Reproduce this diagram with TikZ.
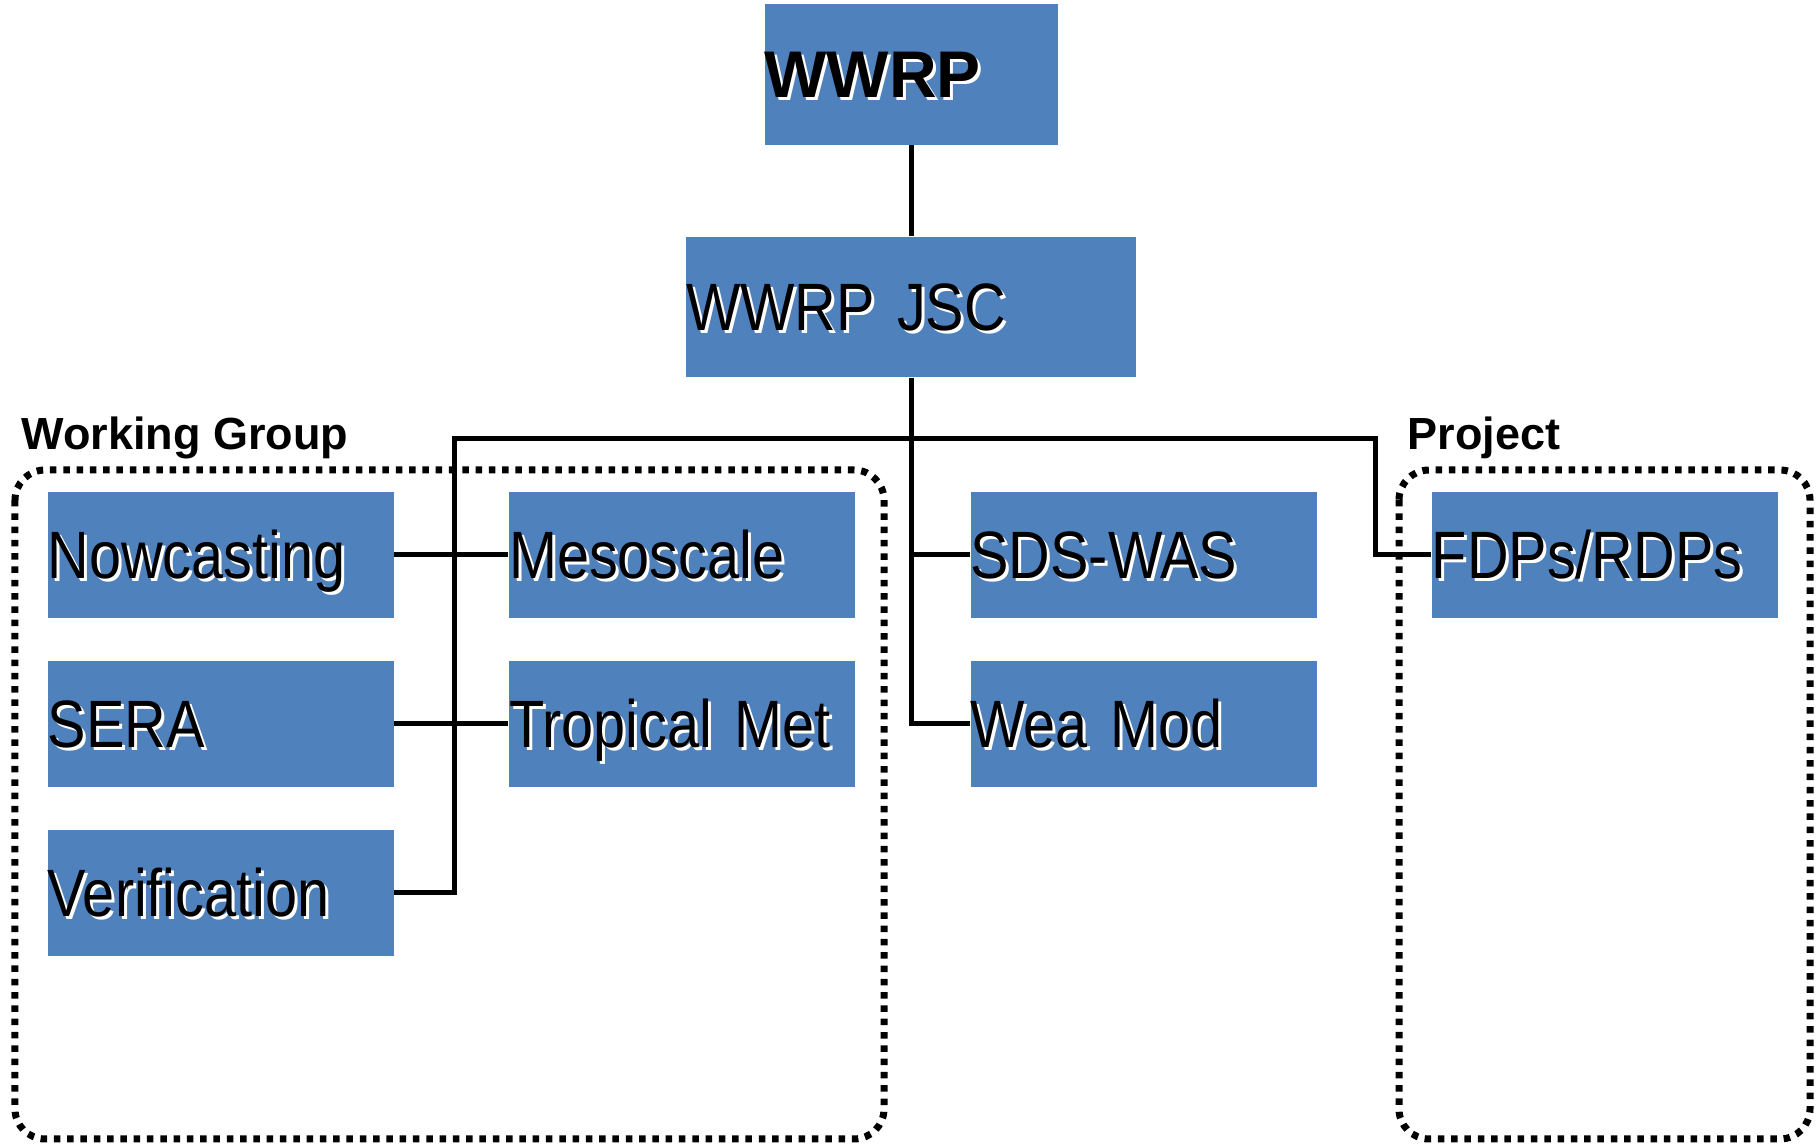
\documentclass[tikz,border=0pt]{standalone}
\usepackage{fontspec}
\setmainfont{Liberation Sans}
\newfontfamily\narrowfont[FakeStretch=0.86]{Liberation Sans}
\usepackage{tikz}
\usetikzlibrary{positioning}
\definecolor{wwrpblue}{RGB}{79,129,189}
\newcommand{\shadowed}[1]{\rlap{\kern0.03cm\raisebox{-0.03cm}{\color{white}#1}}#1}

\begin{document}
\begin{tikzpicture}[
    node distance=0.415cm and 1.14cm,
    unit/.style={rectangle, fill=wwrpblue, minimum width=3.46cm, minimum height=1.26cm, inner xsep=0pt, inner ysep=0pt, text width=3.46cm, align=left, text height=0.47cm, text depth=0pt, font=\narrowfont\fontsize{0.67cm}{0.7cm}\selectfont},
    head/.style={unit, font=\bfseries\fontsize{0.66cm}{0.7cm}\selectfont},
    frame/.style={draw, line width=0.07cm, dash pattern=on 0.065cm off 0.068cm, rounded corners=0.3cm},
    tag/.style={inner sep=0pt, anchor=base west, font=\bfseries\fontsize{0.45cm}{0.5cm}\selectfont},
    link/.style={draw, line width=0.05cm}
]
    \useasboundingbox (0,0) rectangle (18.20,-11.44);

    % top of the tree
    \node[unit, minimum width=4.50cm, minimum height=1.40cm, text width=4.50cm] (jsc) at (9.11,-3.07) {\shadowed{WWRP JSC}};
    \node[head, minimum width=2.93cm, minimum height=1.41cm, text width=2.93cm, above=0.91cm of jsc] (wwrp) {\shadowed{WWRP}};

    % groups
    \draw[frame] (0.15,-4.70) rectangle (8.84,-11.39);
    \draw[frame] (13.99,-4.70) rectangle (18.10,-11.39);
    \node[tag] (wglabel) at (0.21,-4.50) {Working Group};
    \node[tag] (projlabel) at (14.07,-4.50) {Project};

    % working groups and projects
    \node[unit, anchor=north west] (now) at (0.47,-4.91) {\shadowed{Nowcasting}};
    \node[unit, below=of now] (sera) {\shadowed{SERA}};
    \node[unit, below=of sera] (verif) {\shadowed{Verification}};
    \node[unit, right=of now] (meso) {\shadowed{Mesoscale}};
    \node[unit, below=of meso] (trop) {\shadowed{Tropical Met}};
    \node[unit, right=of meso] (sds) {\shadowed{SDS-WAS}};
    \node[unit, below=of sds] (wea) {\shadowed{Wea Mod}};
    \node[unit, right=of sds] (fdp) {\shadowed{FDPs/RDPs}};

    \coordinate (busL) at (4.54,-4.39);
    \coordinate (busR) at (13.75,-4.39);

    \draw[link] (wwrp) -- (jsc);
    \draw[link] (jsc.south) |- (wea.west);
    \draw[link] (sds.west) -| (jsc.south);
    \draw[link] (verif.east) -| (busL) -- (busR) |- (fdp.west);
    \draw[link] (now.east) -- (meso.west);
    \draw[link] (sera.east) -- (trop.west);
\end{tikzpicture}
\end{document}
